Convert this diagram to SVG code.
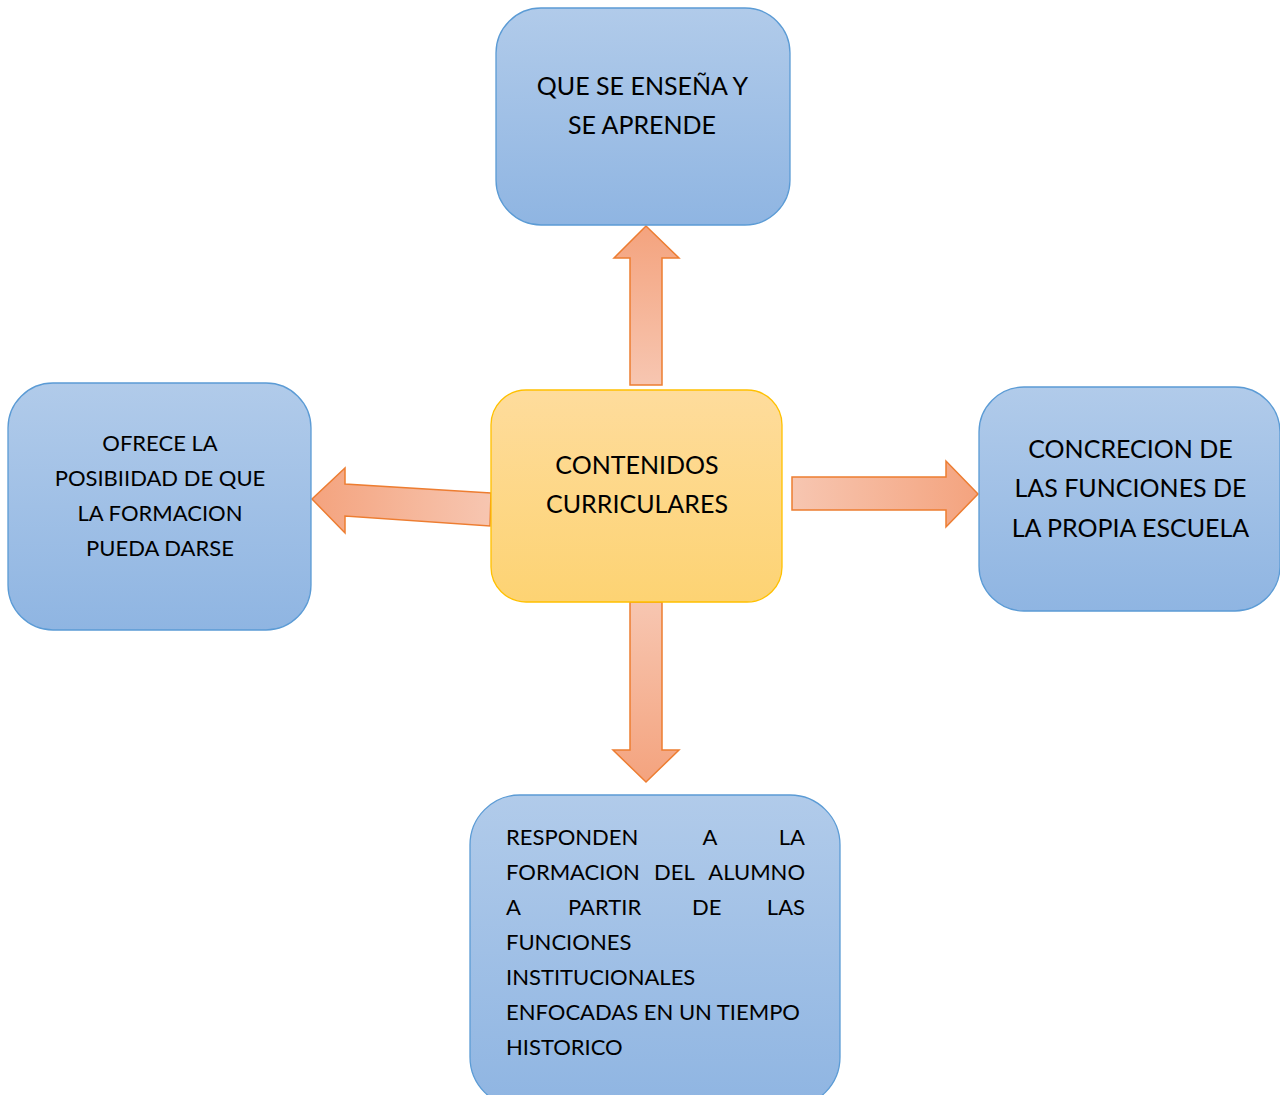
<svg xmlns="http://www.w3.org/2000/svg" width="1280" height="1095" viewBox="0 0 1280 1095">
<defs>
<linearGradient id="blue" x1="0" y1="0" x2="0" y2="1">
<stop offset="0" stop-color="#b1cbea"/>
<stop offset="1" stop-color="#8fb5e2"/>
</linearGradient>
<linearGradient id="gold" x1="0" y1="0" x2="0" y2="1">
<stop offset="0" stop-color="#fedc9c"/>
<stop offset="1" stop-color="#fdd373"/>
</linearGradient>
<linearGradient id="arUp" x1="0" y1="1" x2="0" y2="0">
<stop offset="0" stop-color="#f7c6b1"/>
<stop offset="1" stop-color="#f4a37e"/>
</linearGradient>
<linearGradient id="arDown" x1="0" y1="0" x2="0" y2="1">
<stop offset="0" stop-color="#f7c6b1"/>
<stop offset="1" stop-color="#f4a37e"/>
</linearGradient>
<linearGradient id="arRight" x1="0" y1="0" x2="1" y2="0">
<stop offset="0" stop-color="#f7c6b1"/>
<stop offset="1" stop-color="#f4a37e"/>
</linearGradient>
<linearGradient id="arLeft" x1="1" y1="0" x2="0" y2="0">
<stop offset="0" stop-color="#f7c6b1"/>
<stop offset="1" stop-color="#f4a37e"/>
</linearGradient>
</defs>
<style>
.box{fill:url(#blue);stroke:#5b9bd5;stroke-width:1.3}
.core{fill:url(#gold);stroke:#ffc000;stroke-width:1.3}
.arrow{stroke:#ed7d31;stroke-width:1.5;stroke-linejoin:miter}
text{font-family:Lato,"Open Sans","Liberation Sans",sans-serif;fill:#000}
.big{font-size:25px}
.sm{font-size:22px}
.c{text-anchor:middle}
.e{text-anchor:end}
</style>
<rect width="1280" height="1095" fill="#ffffff"/>
<g id="connectors">
<polygon class="arrow" fill="url(#arUp)" points="630,385 630,258 614,258 646,226 679,258 662,258 662,385"/>
<polygon class="arrow" fill="url(#arDown)" points="630,602 630,750 613,750 646,782 679,750 662,750 662,602"/>
<polygon class="arrow" fill="url(#arRight)" points="792,477 946,477 946,461 978,494 946,527 946,510 792,510"/>
<polygon class="arrow" fill="url(#arLeft)" points="491,493 345,484 345,468 312,499 345,533 345,516 490,526"/>
</g>
<g id="node-top">
<rect class="box" x="496" y="8" width="294" height="217" rx="45" ry="45"/>
<text class="big c" x="642.5" y="95">QUE SE ENSEÑA Y</text>
<text class="big c" x="642" y="134">SE APRENDE</text>
</g>
<g id="node-center">
<rect class="core" x="491" y="390" width="291" height="212" rx="35" ry="35"/>
<text class="big c" x="637" y="474">CONTENIDOS</text>
<text class="big c" x="637" y="513">CURRICULARES</text>
</g>
<g id="node-left">
<rect class="box" x="8" y="383" width="303" height="247" rx="45" ry="45"/>
<text class="sm c" x="160" y="451">OFRECE LA</text>
<text class="sm c" x="160" y="486">POSIBIIDAD DE QUE</text>
<text class="sm c" x="160" y="521">LA FORMACION</text>
<text class="sm c" x="160" y="556">PUEDA DARSE</text>
</g>
<g id="node-right">
<rect class="box" x="979" y="387" width="301" height="224" rx="45" ry="45"/>
<text class="big c" x="1130.5" y="458">CONCRECION DE</text>
<text class="big c" x="1130.5" y="497">LAS FUNCIONES DE</text>
<text class="big c" x="1130.5" y="537">LA PROPIA ESCUELA</text>
</g>
<g id="node-bottom">
<rect class="box" x="470" y="795" width="370" height="312" rx="50" ry="50"/>
<text class="sm" x="506" y="845">RESPONDEN</text>
<text class="sm c" x="710" y="845">A</text>
<text class="sm e" x="805" y="845">LA</text>
<text class="sm" x="506" y="880">FORMACION</text>
<text class="sm" x="654" y="880">DEL</text>
<text class="sm e" x="805" y="880">ALUMNO</text>
<text class="sm" x="506" y="915">A</text>
<text class="sm" x="568" y="915">PARTIR</text>
<text class="sm" x="692" y="915">DE</text>
<text class="sm e" x="805" y="915">LAS</text>
<text class="sm" x="506" y="950">FUNCIONES</text>
<text class="sm" x="506" y="985">INSTITUCIONALES</text>
<text class="sm" x="506" y="1020">ENFOCADAS EN UN TIEMPO</text>
<text class="sm" x="506" y="1055">HISTORICO</text>
</g>
</svg>
